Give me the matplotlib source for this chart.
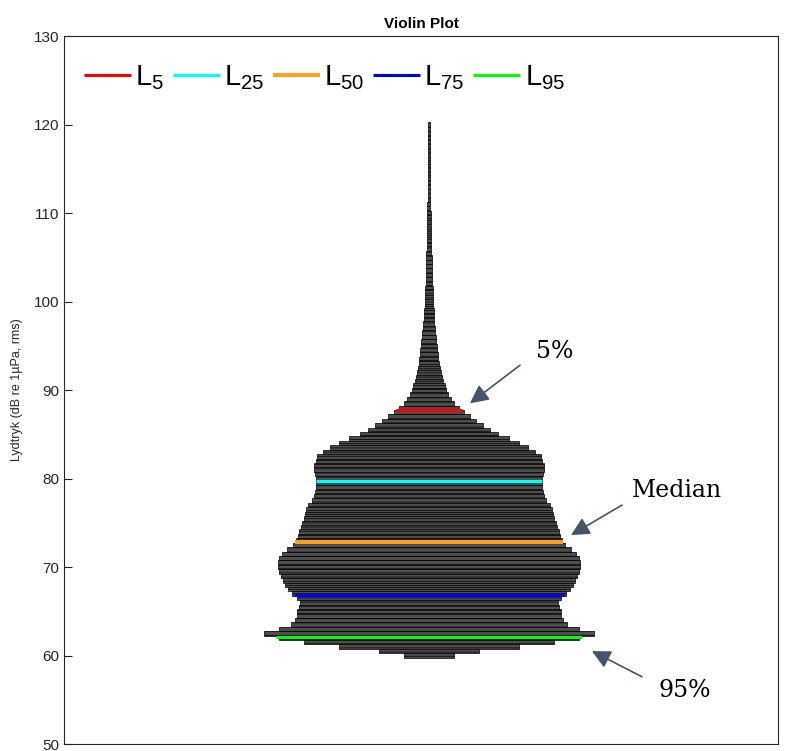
import numpy as np
import matplotlib
matplotlib.use('Agg')
import matplotlib.pyplot as plt

# Lydtryk-niveauer (midten af hver 0.5 dB klasse) og violinens halve bredde
levels = np.arange(60.0, 120.01, 0.5)
half_width = [
    25, 50, 90, 125, 150, 165, 150, 138, 134, 132,         # 60.0 - 64.5
    132, 130, 129, 132, 137, 141, 144, 146, 148, 150,      # 65.0 - 69.5
    151, 151, 150, 147, 142, 136, 133, 131, 130, 128,      # 70.0 - 74.5
    127, 125, 124, 123, 121, 117, 115, 114, 113, 113,      # 75.0 - 79.5
    113, 114, 115, 115, 113, 112, 106, 99, 90, 80,         # 80.0 - 84.5
    69, 61, 54, 47, 41, 35, 30, 25, 22, 19,                # 85.0 - 89.5
    17, 16, 14, 13, 12, 11, 10, 9.5, 9, 8.5,               # 90.0 - 94.5
    8, 7.5, 7, 6.5, 6, 5.5, 5.2, 5, 4.7, 4.4,              # 95.0 - 99.5
    4.2, 4.0, 3.8, 3.6, 3.4, 3.2, 3.1, 3.0, 2.8, 2.7,      # 100.0 - 104.5
    2.6, 2.5, 2.4, 2.3, 2.2, 2.1, 2.0, 1.9, 1.8, 1.7,      # 105.0 - 109.5
    1.6, 1.5, 1.5, 1.4, 1.4, 1.3, 1.3, 1.2, 1.2, 1.1,      # 110.0 - 114.5
    1.1, 1.0, 1.0, 0.9, 0.9, 0.8, 0.8, 0.7, 0.7, 0.6,      # 115.0 - 119.5
    0.6,                                                   # 120.0
]

# Percentiler
pct_names = ['L_{5}', 'L_{25}', 'L_{50}', 'L_{75}', 'L_{95}']
pct_values = [87.7, 79.7, 72.8, 66.8, 62.1]
pct_colors = ['#ff0000', '#00ffff', '#ffa020', '#0000ff', '#00ff00']

plt.rcParams['font.family'] = ['Liberation Sans', 'DejaVu Sans']
plt.rcParams['hatch.linewidth'] = 0.5

fig = plt.figure(figsize=(7.85, 7.51), dpi=100)
ax = fig.add_axes([0.0815, 0.0093, 0.9095, 0.9427])

hw = np.array(half_width)
ax.barh(levels, 2 * hw, height=0.5, left=-hw, color='#4e4e4e',
        edgecolor='black', linewidth=0.5, hatch='----')

for name, val, col in zip(pct_names, pct_values, pct_colors):
    w = np.interp(val, levels, hw)
    lw = 3 if name == 'L_{50}' else 2.2
    ax.plot([-w, w], [val, val], color=col, lw=lw, solid_capstyle='butt',
            label='$\\mathregular{' + name + '}$')

# Pile og tekst
arrow_kw = dict(arrowstyle='-|>', mutation_scale=28, color='#44546a', lw=1.2,
                shrinkA=0, shrinkB=0)
ax.annotate('', xy=(41, 88.5), xytext=(91, 92.8), arrowprops=arrow_kw)
ax.annotate('', xy=(142, 73.6), xytext=(193, 77.0), arrowprops=arrow_kw)
ax.annotate('', xy=(163, 60.5), xytext=(213, 57.6), arrowprops=arrow_kw)
serif = dict(family='DejaVu Serif', fontsize=17, ha='center', va='center')
ax.text(126, 94.3, '5%', **serif)
ax.text(248, 78.7, 'Median', **serif)
ax.text(256, 56.1, '95%', **serif)

ax.set_xlim(-365, 349)
ax.set_ylim(50, 130)
ax.set_yticks(np.arange(50, 131, 10))
ax.set_xticks([])
ax.tick_params(axis='y', direction='in', length=6, labelsize=11,
               labelcolor='#262626', color='#262626')
for s in ax.spines.values():
    s.set_color('#262626')
    s.set_linewidth(0.8)
ax.set_ylabel('Lydtryk (dB re 1µPa, rms)', fontsize=9, color='#262626', labelpad=8)
ax.set_title('Violin Plot', fontsize=11, fontweight='bold', pad=6)

ax.legend(loc='upper left', ncol=5, frameon=False, fontsize=21,
          handlelength=1.6, handletextpad=0.15, columnspacing=0.3,
          borderaxespad=0.3, bbox_to_anchor=(0.0, 0.99))

fig.savefig('out.png', dpi=100)
